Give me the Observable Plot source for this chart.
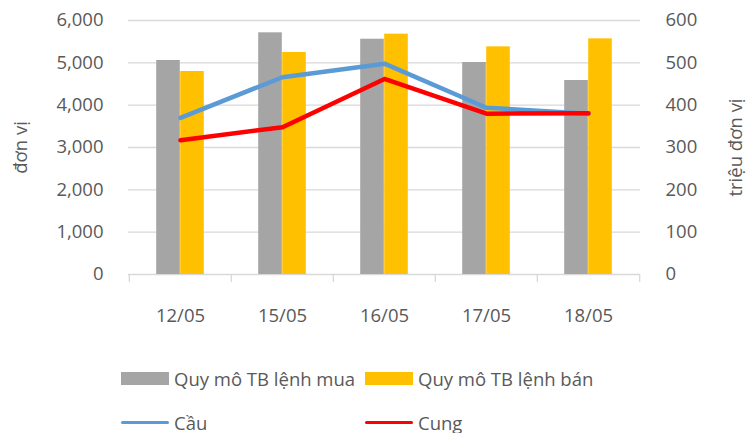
<!DOCTYPE html>
<html><head><meta charset="utf-8">
<script src="https://cdn.jsdelivr.net/npm/d3@7"></script>
<script src="https://cdn.jsdelivr.net/npm/@observablehq/plot@0.6"></script>
<style>
body{margin:0;background:#fff;font-family:"Open Sans",sans-serif;}
#wrap{position:relative;width:747px;height:433px;overflow:hidden;}
#legend{position:absolute;left:0;top:340px;width:747px;height:93px;}
.item{position:absolute;display:flex;align-items:center;font-size:18.5px;color:#595959;white-space:nowrap;}
.sw{width:48px;height:13px;margin-right:5px;}
.ln{width:48px;height:3px;margin-right:5px;border-radius:2px;}
</style></head><body><div id="wrap"></div>
<script>
const dates = ["12/05","15/05","16/05","17/05","18/05"];
const muaValues = [5055,5709,5558,5008,4583];
const banValues = [4795,5244,5677,5378,5567];
const cauValues = [370,466,498,394,380];
const cungValues = [317,348,462,380,381];
const leftTicks = [0,1000,2000,3000,4000,5000,6000];
const rightTicks = [0,100,200,300,400,500,600];
const seriesNames = ["Quy mô TB lệnh mua","Quy mô TB lệnh bán","Cầu","Cung"];
const seriesColors = ["#A5A5A5","#FFC000","#5B9BD5","#FF0000"];
const leftTitle = "đơn vị";
const rightTitle = "triệu đơn vị";

const bars = dates.map((d,i)=>({date:d, mua:muaValues[i], ban:banValues[i], cau:cauValues[i], cung:cungValues[i]}));

const W = 747, mL = 128, mR = 107;
const band = (W - mL - mR) / dates.length;
const half = band / 2;
const barW = 24;
const FS = 18.5;

const chart = Plot.plot({
  width: W, height: 340,
  marginLeft: mL, marginRight: mR, marginTop: 20, marginBottom: 66,
  style: {fontFamily: '"Open Sans", sans-serif', fontSize: FS + "px", color: "#595959", background: "#fff"},
  x: {type: "band", domain: dates, padding: 0, label: null},
  y: {domain: [0, 6000], label: null},
  marks: [
    Plot.ruleY(leftTicks, {stroke: "#D9D9D9", strokeWidth: 1.3}),
    Plot.barY(bars, {x: "date", y: "mua", fill: seriesColors[0], insetLeft: half - barW, insetRight: half}),
    Plot.barY(bars, {x: "date", y: "ban", fill: seriesColors[1], insetLeft: half, insetRight: half - barW}),
    Plot.ruleX(dates, {x: d => d, dx: -half, y1: 0, y2: 0, insetBottom: -8, stroke: "#D9D9D9", strokeWidth: 1.3}),
    Plot.ruleX(dates.slice(-1), {x: d => d, dx: half, y1: 0, y2: 0, insetBottom: -8, stroke: "#D9D9D9", strokeWidth: 1.3}),
    Plot.lineY(bars, {x: "date", y: d => d.cau * 10, stroke: seriesColors[2], strokeWidth: 4.5, strokeLinecap: "round", strokeLinejoin: "round"}),
    Plot.lineY(bars, {x: "date", y: d => d.cung * 10, stroke: seriesColors[3], strokeWidth: 4.5, strokeLinecap: "round", strokeLinejoin: "round"}),
    Plot.axisY(leftTicks, {anchor: "left", tickSize: 0, tickPadding: 25, tickFormat: d3.format(","), label: null, fill: "#595959", fontSize: FS}),
    Plot.axisY(leftTicks, {anchor: "right", tickSize: 0, tickPadding: 25, tickFormat: d => d3.format(",")(d / 10), label: null, fill: "#595959", fontSize: FS}),
    Plot.axisX({tickSize: 0, tickPadding: 34, label: null, fill: "#595959", fontSize: FS}),
    Plot.text([leftTitle], {frameAnchor: "left", textAnchor: "middle", dx: -107, rotate: -90, fill: "#595959", fontSize: FS}),
    Plot.text([rightTitle], {frameAnchor: "right", textAnchor: "middle", dx: 96, rotate: -90, fill: "#595959", fontSize: FS})
  ]
});
const wrap = document.getElementById("wrap");
wrap.appendChild(chart);

const legend = document.createElement("div");
legend.id = "legend";
const pos = [[121,38,"sw"],[365,38,"sw"],[121,82,"ln"],[365,82,"ln"]];
seriesNames.forEach((name,i)=>{
  const it = document.createElement("div");
  it.className = "item";
  it.style.left = pos[i][0] + "px";
  it.style.top = (pos[i][1] - 13) + "px";
  it.style.height = "26px";
  const s = document.createElement("span");
  s.className = pos[i][2];
  s.style.background = seriesColors[i];
  it.appendChild(s);
  const t = document.createElement("span");
  t.textContent = name;
  it.appendChild(t);
  legend.appendChild(it);
});
wrap.appendChild(legend);
</script>
</body></html>
